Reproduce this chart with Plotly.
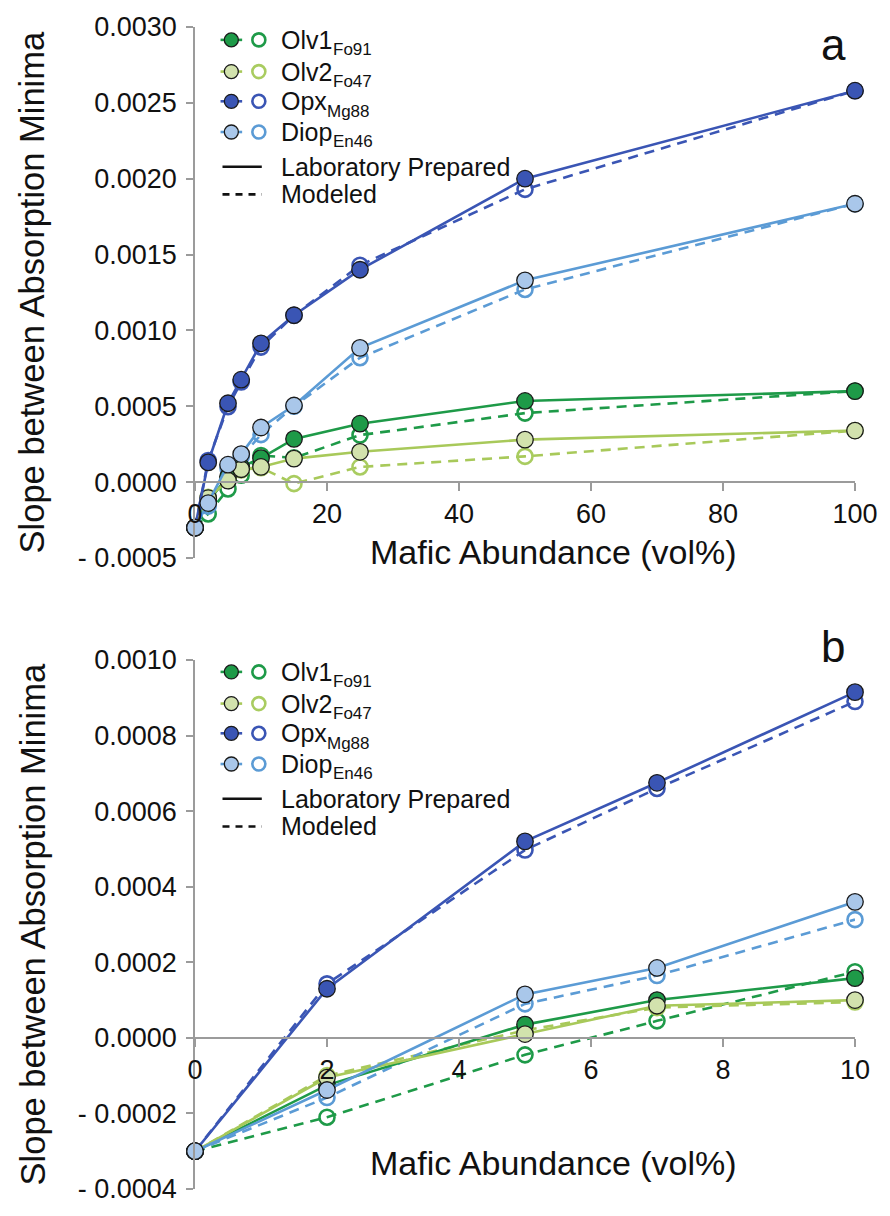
import plotly.graph_objects as go

# ---------------- data ----------------
x_vals = [0, 2, 5, 7, 10, 15, 25, 50, 100]

olv1_lab = [-0.0003, -0.000125, 0.000035, 0.0001, 0.000158, 0.000285, 0.000385, 0.000535, 0.0006]
olv1_mod = [-0.0003, -0.00021, -0.000045, 0.000045, 0.000175, 0.00016, 0.00031, 0.000455, 0.0006]
olv2_lab = [-0.0003, -0.000105, 0.00001, 0.000085, 0.0001, 0.000155, 0.0002, 0.00028, 0.00034]
olv2_mod = [-0.0003, -0.0001, 0.00002, 0.00008, 0.000095, -0.00001, 0.0001, 0.00017, 0.00034]
opx_lab = [-0.0003, 0.00013, 0.00052, 0.000675, 0.000915, 0.0011, 0.0014, 0.002, 0.00258]
opx_mod = [-0.0003, 0.000143, 0.000497, 0.00066, 0.00089, 0.0011, 0.00143, 0.00193, 0.00258]
diop_lab = [-0.0003, -0.000138, 0.000115, 0.000185, 0.00036, 0.000505, 0.000885, 0.00133, 0.001835]
diop_mod = [-0.0003, -0.000158, 0.00009, 0.000165, 0.000313, 0.0005, 0.00082, 0.00127, 0.001835]

series_names = ["Olv1", "Olv2", "Opx", "Diop"]
series_subs = ["Fo91", "Fo47", "Mg88", "En46"]

xa_ticks = [0, 20, 40, 60, 80, 100]
xb_ticks = [0, 2, 4, 6, 8, 10]
ya_ticks = [-0.0005, 0.0, 0.0005, 0.0010, 0.0015, 0.0020, 0.0025, 0.0030]
ya_text = ["- 0.0005", "0.0000", "0.0005", "0.0010", "0.0015", "0.0020", "0.0025", "0.0030"]
yb_ticks = [-0.0004, -0.0002, 0.0, 0.0002, 0.0004, 0.0006, 0.0008, 0.0010]
yb_text = ["- 0.0004", "- 0.0002", "0.0000", "0.0002", "0.0004", "0.0006", "0.0008", "0.0010"]

xa_range = [0, 100]
xb_range = [0, 10]
ya_range = [-0.0005, 0.0030]
yb_range = [-0.0004, 0.0010]

x_title = "Mafic Abundance (vol%)"
y_title = "Slope between Absorption Minima"

# ---------------- styles ----------------
line_col = {"Olv1": "#1e9a48", "Olv2": "#a8c95a", "Opx": "#3a55b4", "Diop": "#5b9bd5"}
fill_col = {"Olv1": "#1e9a48", "Olv2": "#d2e2ad", "Opx": "#3a55b4", "Diop": "#a9c7ea"}
open_col = {"Olv1": "#1e9a48", "Olv2": "#a9cc60", "Opx": "#3a55b4", "Diop": "#5b9bd5"}
FONT = "Liberation Sans, Arial, Helvetica, sans-serif"
AXC = "#9b9b9b"

# Arial / Liberation Sans advance widths (em) for legend text layout
CHAR_W = {"O": 0.778, "l": 0.222, "v": 0.5, "1": 0.556, "2": 0.556, "p": 0.556,
          "x": 0.5, "D": 0.722, "i": 0.222, "o": 0.556}

W, H = 890, 1216
ML, MR, MT, MB = 195, 23, 25, 18
PW = W - ML - MR
PH = H - MT - MB


def px_x(px):
    return (px - ML) / PW


def px_y(py):
    return (H - MB - py) / PH


dom_a = [px_y(561), px_y(25)]
dom_b = [px_y(1198), px_y(664)]


def zero_pos(dom, rng):
    return dom[0] + (0 - rng[0]) / (rng[1] - rng[0]) * (dom[1] - dom[0])


fig = go.Figure()

data = {
    "Olv1": (olv1_lab, olv1_mod),
    "Olv2": (olv2_lab, olv2_mod),
    "Opx": (opx_lab, opx_mod),
    "Diop": (diop_lab, diop_mod),
}

for xa, ya, xmax in (("x", "y", 100), ("x2", "y2", 10)):
    for name in series_names:
        lab, mod = data[name]
        xs = [x for x in x_vals if x <= xmax]
        n = len(xs)
        fig.add_trace(go.Scatter(
            x=xs, y=mod[:n], xaxis=xa, yaxis=ya, mode="lines+markers",
            line=dict(color=line_col[name], width=2.6, dash="10px,7px"),
            marker=dict(symbol="circle-open", size=15, color=open_col[name],
                        line=dict(width=2.6, color=open_col[name])),
            cliponaxis=False, showlegend=False, name=name + " modeled"))
    for name in series_names:
        lab, mod = data[name]
        xs = [x for x in x_vals if x <= xmax]
        n = len(xs)
        fig.add_trace(go.Scatter(
            x=xs, y=lab[:n], xaxis=xa, yaxis=ya, mode="lines+markers",
            line=dict(color=line_col[name], width=2.6),
            marker=dict(symbol="circle", size=16.5, color=fill_col[name],
                        line=dict(width=1.3, color="#1a1a1a")),
            cliponaxis=False, showlegend=False, name=name + " lab"))

axis_common = dict(showgrid=False, showline=True, linecolor=AXC, linewidth=1.5,
                   ticks="outside", tickcolor=AXC, tickwidth=1.5,
                   tickfont=dict(family=FONT, size=27, color="#111"))

fig.update_layout(
    width=W, height=H, margin=dict(l=ML, r=MR, t=MT, b=MB),
    paper_bgcolor="white", plot_bgcolor="white", showlegend=False,
    xaxis=dict(domain=[0, 1], range=xa_range, anchor="free", position=zero_pos(dom_a, ya_range),
               tickvals=xa_ticks, ticklen=8, zeroline=False, **axis_common),
    yaxis=dict(domain=dom_a, range=ya_range, anchor="x", tickvals=ya_ticks, ticktext=ya_text,
               ticklen=7, zeroline=False, ticklabelstandoff=4, **axis_common),
    xaxis2=dict(domain=[0, 1], range=xb_range, anchor="free", position=zero_pos(dom_b, yb_range),
                tickvals=xb_ticks, ticklen=8, zeroline=False, **axis_common),
    yaxis2=dict(domain=dom_b, range=yb_range, anchor="x2", tickvals=yb_ticks, ticktext=yb_text,
                ticklen=7, zeroline=False, ticklabelstandoff=4, **axis_common),
)

annotations = []
shapes = []


def txt(px, py, text, size, angle=0, xanchor="center"):
    annotations.append(dict(xref="paper", yref="paper", x=px_x(px), y=px_y(py), text=text,
                            showarrow=False, textangle=angle, xanchor=xanchor, yanchor="middle",
                            font=dict(family=FONT, size=size, color="#111")))


# axis titles and panel labels
for yc, xty in ((293, 555), (931, 1172)):
    txt(30, yc, y_title, 34.5, angle=-90)
    txt(560, xty, x_title, 34)
txt(845, 43, "a", 44)
txt(845, 650, "b", 44)

# custom legends
LEG_FS = 25
SUB_FS = 17
leg_rows = [38, 70, 100, 131, 166, 194]
for off in (0, 638):
    for i, name in enumerate(series_names):
        yy = leg_rows[i] + off
        shapes.append(dict(type="line", xref="paper", yref="paper",
                           x0=px_x(221), x1=px_x(243), y0=px_y(yy), y1=px_y(yy),
                           line=dict(color=line_col[name], width=2.6)))
        shapes.append(dict(type="circle", xref="paper", yref="paper",
                           xsizemode="pixel", ysizemode="pixel",
                           xanchor=px_x(232), yanchor=px_y(yy), x0=-7, x1=7, y0=-7, y1=7,
                           fillcolor=fill_col[name], line=dict(color="#1a1a1a", width=1.3)))
        shapes.append(dict(type="circle", xref="paper", yref="paper",
                           xsizemode="pixel", ysizemode="pixel",
                           xanchor=px_x(260), yanchor=px_y(yy), x0=-6.5, x1=6.5, y0=-6.5, y1=6.5,
                           fillcolor="rgba(0,0,0,0)", line=dict(color=open_col[name], width=2.6)))
        txt(281, yy, name, LEG_FS, xanchor="left")
        wname = sum(CHAR_W.get(c, 0.556) for c in name) * LEG_FS
        txt(281 + wname + 1, yy + 10, series_subs[i], SUB_FS, xanchor="left")
    yl = leg_rows[4] + off
    shapes.append(dict(type="line", xref="paper", yref="paper",
                       x0=px_x(223), x1=px_x(263), y0=px_y(yl), y1=px_y(yl),
                       line=dict(color="#111", width=2.6)))
    txt(281, yl, "Laboratory Prepared", LEG_FS, xanchor="left")
    ym = leg_rows[5] + off
    shapes.append(dict(type="line", xref="paper", yref="paper",
                       x0=px_x(223), x1=px_x(263), y0=px_y(ym), y1=px_y(ym),
                       line=dict(color="#111", width=2.6, dash="7px,6px")))
    txt(281, ym, "Modeled", LEG_FS, xanchor="left")

fig.update_layout(annotations=annotations, shapes=shapes)
fig.write_html("out.html")
